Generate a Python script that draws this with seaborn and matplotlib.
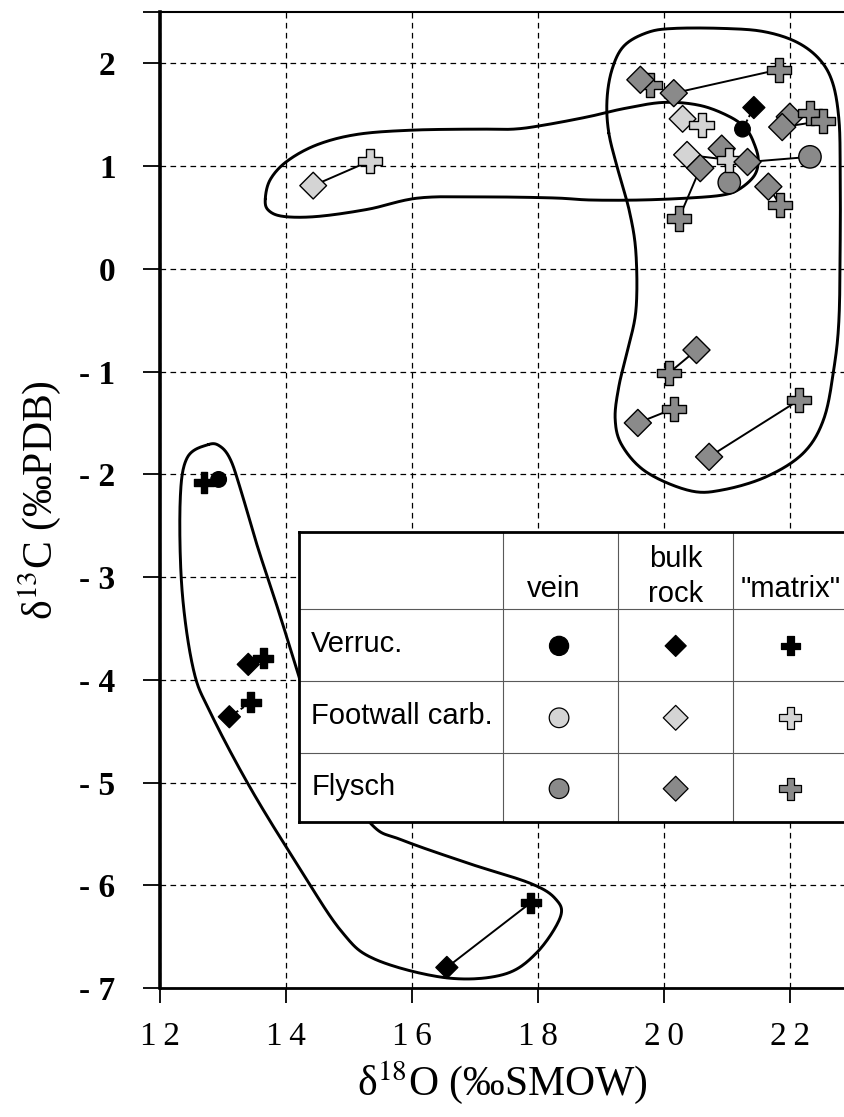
import numpy as np
import pandas as pd
import matplotlib
matplotlib.use("Agg")
import matplotlib.pyplot as plt
import seaborn as sns

# ---- isotope analyses: delta18O (permil SMOW) and delta13C (permil PDB) ----
lithology = [
    "Flysch", "Flysch", "Flysch", "Flysch", "Verruc.", "Verruc.",
    "Footwall carb.", "Footwall carb.", "Flysch", "Flysch", "Flysch", "Flysch",
    "Footwall carb.", "Flysch", "Flysch", "Flysch", "Footwall carb.", "Flysch",
    "Flysch", "Flysch", "Flysch", "Flysch",
    "Footwall carb.", "Footwall carb.",
    "Flysch", "Flysch", "Flysch", "Flysch", "Flysch", "Flysch",
    "Verruc.", "Verruc.", "Verruc.", "Verruc.", "Verruc.", "Verruc.",
    "Verruc.", "Verruc.",
]
sample_type = [
    "matrix", "bulk rock", "bulk rock", "matrix", "bulk rock", "vein",
    "bulk rock", "matrix", "bulk rock", "matrix", "bulk rock", "matrix",
    "bulk rock", "bulk rock", "bulk rock", "vein", "matrix", "bulk rock",
    "vein", "matrix", "bulk rock", "matrix",
    "bulk rock", "matrix",
    "bulk rock", "matrix", "bulk rock", "matrix", "bulk rock", "matrix",
    "vein", "matrix", "bulk rock", "matrix", "bulk rock", "matrix",
    "bulk rock", "matrix",
]
d18O = [
    19.78, 19.62, 20.15, 21.82, 21.42, 21.24,
    20.29, 20.59, 21.99, 22.31, 21.87, 22.52,
    20.36, 20.91, 20.57, 21.03, 21.03, 21.32,
    22.31, 20.23, 21.65, 21.84,
    14.43, 15.33,
    20.51, 20.08, 19.58, 20.15, 20.71, 22.13,
    12.93, 12.70, 13.40, 13.64, 13.10, 13.44,
    16.55, 17.88,
]
d13C = [
    1.79, 1.84, 1.71, 1.94, 1.57, 1.36,
    1.46, 1.40, 1.48, 1.52, 1.38, 1.44,
    1.11, 1.17, 0.98, 0.84, 1.06, 1.04,
    1.09, 0.49, 0.80, 0.62,
    0.81, 1.05,
    -0.79, -1.01, -1.50, -1.36, -1.83, -1.28,
    -2.05, -2.08, -3.85, -3.79, -4.36, -4.22,
    -6.80, -6.17,
]

# paired analyses joined by tie lines (indices into the arrays above)
tie_solid = [(0, 1), (2, 3), (6, 7), (8, 9), (10, 11), (12, 16), (13, 15),
             (14, 19), (17, 18), (20, 21), (22, 23), (24, 25), (26, 27),
             (28, 29), (36, 37)]
tie_dashed = [(4, 5), (32, 33), (34, 35)]

# hand-drawn outlines of the three sample groups (closed curves)
outline_flysch = [
    (19.12, 1.32), (19.09, 1.64), (19.17, 1.94), (19.36, 2.17), (19.73, 2.30),
    (20.15, 2.34), (20.94, 2.34), (21.57, 2.31), (22.09, 2.21), (22.46, 2.04),
    (22.67, 1.81), (22.77, 1.45), (22.79, 0.96), (22.79, 0.28), (22.77, -0.49),
    (22.69, -0.97), (22.53, -1.46), (22.21, -1.79), (21.63, -2.02), (20.94, -2.15),
    (20.41, -2.16), (19.72, -1.98), (19.33, -1.72), (19.22, -1.46), (19.28, -1.14),
    (19.41, -0.81), (19.55, -0.40), (19.55, 0.15), (19.45, 0.55), (19.27, 0.95),
]
outline_footwall = [
    (13.67, 0.68), (13.75, 0.87), (14.02, 1.05), (14.50, 1.21), (15.14, 1.31),
    (16.00, 1.35), (17.00, 1.36), (17.61, 1.36), (18.10, 1.40), (18.79, 1.48),
    (19.36, 1.56), (19.99, 1.62), (20.57, 1.59), (21.04, 1.48), (21.30, 1.36),
    (21.43, 1.21), (21.49, 1.06), (21.43, 0.91), (21.20, 0.78), (20.94, 0.72),
    (20.41, 0.69), (19.62, 0.67), (18.83, 0.67), (18.25, 0.69), (17.18, 0.70),
    (16.11, 0.69), (15.30, 0.58), (14.50, 0.51), (13.96, 0.51), (13.72, 0.57),
]
outline_verruc = [
    (12.77, -1.71), (12.96, -1.73), (13.12, -1.86), (13.28, -2.15), (13.55, -2.71),
    (13.87, -3.31), (14.19, -3.94), (14.40, -4.36), (14.77, -4.88), (15.36, -5.41),
    (15.84, -5.56), (16.91, -5.79), (17.87, -5.98), (18.27, -6.13), (18.35, -6.31),
    (17.97, -6.66), (17.44, -6.87), (16.53, -6.90), (15.41, -6.72), (14.88, -6.45),
    (14.24, -5.86), (13.44, -5.06), (12.80, -4.32), (12.53, -3.90), (12.35, -3.13),
    (12.32, -2.26), (12.43, -1.84),
]

x_ticks = [12, 14, 16, 18, 20, 22]
x_tick_labels = ["1\u20092", "1\u20094", "1\u20096", "1\u20098", "2\u20090", "2\u20092"]
y_ticks = [-7, -6, -5, -4, -3, -2, -1, 0, 1, 2]
y_tick_labels = ["- 7", "- 6", "- 5", "- 4", "- 3", "- 2", "- 1", "0", "1", "2"]

row_names = ["Verruc.", "Footwall carb.", "Flysch"]
col_names = ["vein", "bulk rock", "matrix"]

# ---- styling ----
sns.set_style("ticks")
plt.rcParams["font.family"] = ["Liberation Serif", "DejaVu Serif"]
plt.rcParams["mathtext.fontset"] = "stix"
for key_name in ("text.color", "axes.labelcolor", "xtick.color", "ytick.color",
                 "axes.edgecolor"):
    plt.rcParams[key_name] = "black"

palette = {"Verruc.": "black", "Footwall carb.": "#d4d4d4", "Flysch": "#8a8a8a"}
markers = {"vein": "o", "bulk rock": "D", "matrix": "P"}
plot_sizes = {
    "Verruc./vein": 125, "Verruc./bulk rock": 125, "Verruc./matrix": 210,
    "Footwall carb./vein": 230, "Footwall carb./bulk rock": 185,
    "Footwall carb./matrix": 300,
    "Flysch/vein": 260, "Flysch/bulk rock": 190, "Flysch/matrix": 300,
}
legend_sizes = {
    "Verruc./vein": 190, "Verruc./bulk rock": 115, "Verruc./matrix": 190,
    "Footwall carb./vein": 200, "Footwall carb./bulk rock": 160,
    "Footwall carb./matrix": 250,
    "Flysch/vein": 200, "Flysch/bulk rock": 160, "Flysch/matrix": 250,
}


def closed_curve(points, n=24):
    """Smooth closed Catmull-Rom curve through the given outline vertices."""
    p = np.asarray(points, dtype=float)
    t = np.linspace(0, 1, n, endpoint=False)[:, None]
    segs = []
    for i in range(len(p)):
        p0, p1, p2, p3 = p[i - 1], p[i], p[(i + 1) % len(p)], p[(i + 2) % len(p)]
        segs.append(0.5 * (2 * p1 + (-p0 + p2) * t
                           + (2 * p0 - 5 * p1 + 4 * p2 - p3) * t ** 2
                           + (-p0 + 3 * p1 - 3 * p2 + p3) * t ** 3))
    c = np.vstack(segs)
    return np.vstack([c, c[:1]])


XMIN, XMAX, YMIN, YMAX = 12, 22.85, -7, 2.5

fig = plt.figure(figsize=(8.44, 11.17), dpi=100)
ax = fig.add_axes([160 / 844, 1 - 988 / 1117, 684 / 844, 976 / 1117])
ax.set_xlim(XMIN, XMAX)
ax.set_ylim(YMIN, YMAX)

# dashed reference grid
ax.set_axisbelow(True)
ax.set_xticks(x_ticks)
ax.set_yticks(y_ticks)
ax.grid(True, color="black", lw=0.9, ls=(0, (4.5, 3.5)))

# group outlines
for outline in (outline_flysch, outline_footwall, outline_verruc):
    c = closed_curve(outline)
    ax.plot(c[:, 0], c[:, 1], color="black", lw=2.1, zorder=3,
            solid_joinstyle="round")

# tie lines
xs = np.asarray(d18O)
ys = np.asarray(d13C)
for i, j in tie_solid:
    ax.plot(xs[[i, j]], ys[[i, j]], color="black", lw=1.4, zorder=4)
for i, j in tie_dashed:
    ax.plot(xs[[i, j]], ys[[i, j]], color="black", lw=1.4, ls=(0, (2, 1.5)), zorder=4)

df = pd.DataFrame({"d18O": d18O, "d13C": d13C,
                   "lith": lithology, "kind": sample_type})
df["group"] = df["lith"] + "/" + df["kind"]
sns.scatterplot(data=df, x="d18O", y="d13C", hue="lith", style="kind",
                size="group", palette=palette, markers=markers,
                sizes=plot_sizes, edgecolor="black", linewidth=1.0,
                legend=False, ax=ax, zorder=5)

# axes, ticks and labels
ax.spines["right"].set_visible(False)
ax.spines["left"].set_linewidth(2.6)
ax.spines["bottom"].set_linewidth(2.0)
ax.spines["top"].set_linewidth(1.5)
ax.set_yticks([2.5], minor=True)
ax.tick_params(axis="y", which="both", direction="out", length=12, width=1.3,
               pad=20, labelsize=24)
ax.tick_params(axis="x", which="both", direction="out", length=11, width=1.3,
               pad=13, labelsize=24)
ax.set_xticklabels(x_tick_labels)
ax.set_yticklabels(y_tick_labels, fontweight="bold")
ax.set_xlabel("\u03b4$^{18}$O (‰SMOW)", fontsize=30, labelpad=5)
ax.set_ylabel("\u03b4$^{13}$C (‰PDB)", fontsize=30, labelpad=12)

# ---- symbol key drawn as a table on top of the plot ----
LX0, LX1, LY0, LY1 = 14.20, 22.92, -5.38, -2.56
col_edges = [17.44, 19.27, 21.09]
row_edges = [-3.31, -4.01, -4.71]
col_x = {"vein": 18.33, "bulk rock": 20.18, "matrix": 22.0}
row_y = {"Verruc.": -3.67, "Footwall carb.": -4.37, "Flysch": -5.06}

pos = ax.get_position()
def fig_x(x):
    return pos.x0 + (x - XMIN) / (XMAX - XMIN) * pos.width
def fig_y(y):
    return pos.y0 + (y - YMIN) / (YMAX - YMIN) * pos.height

lax = fig.add_axes([fig_x(LX0), fig_y(LY0), fig_x(LX1) - fig_x(LX0),
                    fig_y(LY1) - fig_y(LY0)])
lax.set_xlim(LX0, LX1)
lax.set_ylim(LY0, LY1)
lax.set_facecolor("white")
lax.set_xticks([])
lax.set_yticks([])
for s in lax.spines.values():
    s.set_linewidth(2.0)
    s.set_color("black")
for yv in row_edges:
    lax.axhline(yv, color="0.35", lw=0.8)
for xv in col_edges:
    lax.axvline(xv, color="0.35", lw=0.8)

sans = ["Liberation Sans", "DejaVu Sans"]
for name in row_names:
    lax.text(14.40, row_y[name] + 0.02, name, family=sans, fontsize=21,
             ha="left", va="center")
lax.text(col_x["vein"] - 0.08, -3.19, "vein", family=sans, fontsize=21,
         ha="center", va="baseline")
lax.text(col_x["bulk rock"], -2.90, "bulk", family=sans, fontsize=21,
         ha="center", va="baseline")
lax.text(col_x["bulk rock"], -3.24, "rock", family=sans, fontsize=21,
         ha="center", va="baseline")
lax.text(col_x["matrix"], -3.19, '"matrix"', family=sans, fontsize=21,
         ha="center", va="baseline")

key = pd.DataFrame([(r, c) for r in row_names for c in col_names],
                   columns=["lith", "kind"])
key["x"] = key["kind"].map(col_x)
key["y"] = key["lith"].map(row_y)
key["group"] = key["lith"] + "/" + key["kind"]
sns.scatterplot(data=key, x="x", y="y", hue="lith", style="kind", size="group",
                palette=palette, markers=markers, sizes=legend_sizes,
                edgecolor="black", linewidth=0.9, legend=False, ax=lax,
                zorder=5)
lax.set_xlabel("")
lax.set_ylabel("")

fig.savefig("out.png", dpi=100)
